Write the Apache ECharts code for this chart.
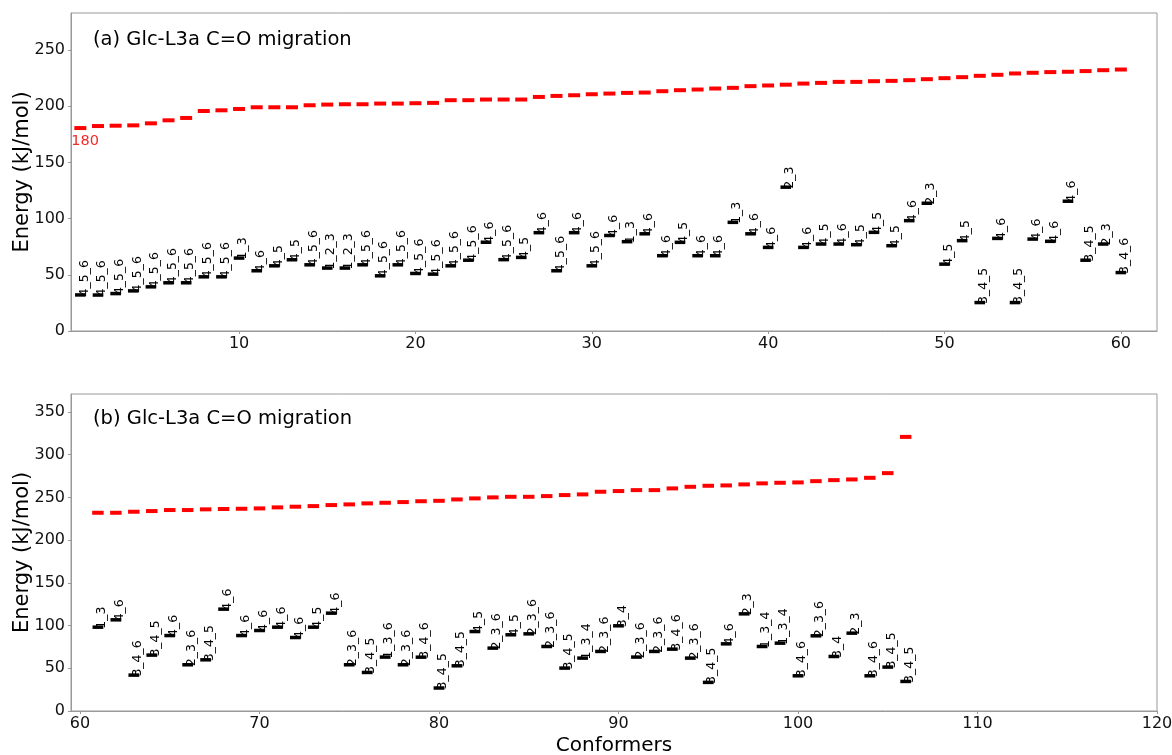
<!DOCTYPE html>
<html><head><meta charset="utf-8">
<script src="https://cdn.jsdelivr.net/npm/echarts@6/dist/echarts.min.js"></script>
<style>html,body{margin:0;padding:0;background:#fff}#c{width:1172px;height:755px}</style>
</head><body><div id="c"></div>
<script>
// ---------- DATA ----------
const topConformers = [1,2,3,4,5,6,7,8,9,10,11,12,13,14,15,16,17,18,19,20,21,22,23,24,25,26,27,28,29,30,
  31,32,33,34,35,36,37,38,39,40,41,42,43,44,45,46,47,48,49,50,51,52,53,54,55,56,57,58,59,60];
const topTS = [180.6,182.4,182.7,183,184.8,187.5,189.6,195.8,196.4,197.6,
  199.1,199.1,199.1,200.9,201.5,201.8,201.8,202.4,202.4,202.7,
  203,205.4,205.4,206,206,206,208.3,209.2,209.8,210.7,
  211.3,211.9,212.2,213.4,214.3,214.9,215.8,216.4,217.9,218.5,
  219.2,220.2,220.8,221.7,221.7,222.3,222.6,223.2,224.1,225,
  225.9,227.1,228,229.2,229.8,230.4,230.7,231.3,232.1,232.7];
const topMin = [32.1,32,33.3,35.7,39.3,42.9,42.9,48.2,48.2,64.9,
  53.6,58,63.4,58.9,56,56,58.9,49.1,58.9,51.2,
  50.6,58,63,79,63.5,65.5,87.5,53.6,87.5,58,
  85,79.5,86.5,67,78.9,67,67,96.7,86.5,74.4,
  128,74.4,77.4,77.4,76.8,87.8,75.9,98.2,113.7,59.5,
  80.4,25.3,82.4,25.3,81.8,79.8,115.5,63,77.4,52];
const topLabels = ['4_5_6','4_5_6','4_5_6','4_5_6','4_5_6','4_5_6','4_5_6','4_5_6','4_5_6','1_3',
  '4_6','4_5','4_5','4_5_6','1_2_3','1_2_3','4_5_6','4_5_6','4_5_6','4_5_6',
  '4_5_6','4_5_6','4_5_6','4_6','4_5_6','4_5','4_6','4_5_6','4_6','4_5_6',
  '4_6','1_3','4_6','4_6','4_5','4_6','4_6','1_3','4_6','4_6',
  '2_3','4_6','4_5','4_6','4_5','4_5','4_5','4_6','2_3','4_5',
  '4_5','3_4_5','4_6','3_4_5','4_6','4_6','4_6','3_4_5','2_3','3_4_6'];

const botConformers = [61,62,63,64,65,66,67,68,69,70,71,72,73,74,75,76,77,78,79,80,
  81,82,83,84,85,86,87,88,89,90,91,92,93,94,95,96,97,98,99,100,101,102,103,104,105,106];
const botTS = [232,232,233.2,234,235.2,235.2,236,236.4,236.7,237.1,
  238.3,239.1,239.8,241,241.8,243,243.7,244.5,245.5,246,
  247.6,248.8,250,250.7,250.7,251.5,252.7,253.5,256.6,257.4,
  258.5,258.5,260.5,262.4,263.6,264,265.2,266.4,267.1,267.5,
  269,270.2,271,272.9,278.4,320.8];
const botMin = [98.1,106.7,42,65.4,88.3,54.1,59.9,119.2,88.3,94.2,
  98.1,86,98.1,114.5,54.1,45.1,63.1,54.1,63,26.9,
  52.9,93,73.6,89.2,90.3,75.5,50.2,61.9,69.7,99.7,
  63.1,69.7,72.4,61.9,33.5,78.6,113.7,75.5,79.4,41.2,
  88,63.8,91.1,41.2,51.4,34.6];
const botLabels = ['1_3','4_6','3_4_6','3_4_5','4_6','2_3_6','3_4_5','4_6','4_6','4_6',
  '4_6','4_6','4_5','4_6','2_3_6','3_4_5','1_3_6','2_3_6','3_4_6','3_4_5',
  '3_4_5','4_5','2_3_6','4_5','2_3_6','2_3_6','3_4_5','1_3_4','2_3_6','3_4',
  '2_3_6','2_3_6','3_4_6','2_3_6','3_4_5','4_6','2_3','1_3_4','1_3_4','3_4_6',
  '2_3_6','3_4','2_3','3_4_6','3_4_5','3_4_5'];

const topXTicks = [10,20,30,40,50,60];
const topYTicks = [0,50,100,150,200,250];
const botXTicks = [60,70,80,90,100,110,120];
const botYTicks = [0,50,100,150,200,250,300,350];
const titleA = '(a) Glc-L3a C=O migration';
const titleB = '(b) Glc-L3a C=O migration';
const firstTSLabel = '180';

// ---------- RENDER ----------
const FONT = '"DejaVu Sans", sans-serif';
const AXIS_GREY = '#999999';
function pairs(xs, ys){ return xs.map((x,i)=>[x, ys[i]]); }

function dashItem(halfW, thick, color, annot){
  return function(params, api){
    const x = api.value(0), y = api.value(1);
    const p1 = api.coord([x - halfW, y]);
    const p2 = api.coord([x + halfW, y]);
    const children = [{type:'rect', shape:{x:p1[0], y:p1[1]-thick/2, width:p2[0]-p1[0], height:thick}, style:{fill:color}}];
    if (annot && params.dataIndex === 0) {
      children.push({type:'text', x:p1[0]-3, y:p1[1]+6,
        style:{text:annot, fill:'#f22a2a', font:'14.5px ' + FONT, align:'left', verticalAlign:'top'}});
    }
    return {type:'group', children};
  };
}
function barItem(labels){
  return function(params, api){
    const x = api.value(0), y = api.value(1);
    const c = api.coord([x, y]);
    const p1 = api.coord([x - 0.3, y]), p2 = api.coord([x + 0.3, y]);
    return {type:'group', children:[
      {type:'rect', shape:{x:p1[0], y:c[1]-1.75, width:p2[0]-p1[0], height:3.5}, style:{fill:'#000'}},
      {type:'text', x:c[0]-2.5, y:c[1]+1.5, rotation:Math.PI/2,
        style:{text:labels[params.dataIndex], fill:'#000', font:'12.5px ' + FONT, align:'left', verticalAlign:'top'}}
    ]};
  };
}

function xAxis(grid, min, max, ticks, name){
  return {gridIndex:grid, type:'value', min, max, name:name||'', nameLocation:'middle', nameGap:25,
    nameMoveOverlap:false,
    nameTextStyle:{fontSize:20, fontFamily:FONT, color:'#000'},
    axisLine:{show:true, onZero:false, lineStyle:{color:AXIS_GREY, width:1}},
    axisTick:{show:true, customValues:ticks, length:3, lineStyle:{color:AXIS_GREY}},
    axisLabel:{customValues:ticks, fontSize:16, fontFamily:FONT, color:'#111', margin:5},
    splitLine:{show:false}};
}
function yAxis(grid, min, max, ticks){
  return {gridIndex:grid, type:'value', min, max, name:'Energy (kJ/mol)', nameLocation:'middle', nameGap:38,
    nameMoveOverlap:false,
    nameTextStyle:{fontSize:21, fontFamily:FONT, color:'#000'},
    axisLine:{show:true, onZero:false, lineStyle:{color:AXIS_GREY, width:1}},
    axisTick:{show:true, customValues:ticks, length:3, lineStyle:{color:AXIS_GREY}},
    axisLabel:{customValues:ticks, fontSize:16, fontFamily:FONT, color:'#111', margin:6},
    splitLine:{show:false}};
}

const chart = echarts.init(document.getElementById('c'), null, {renderer:'canvas'});
chart.setOption({
  animation:false,
  backgroundColor:'#fff',
  title:[
    {text:titleA, left:93, top:30, padding:0, textStyle:{fontSize:19.5, fontWeight:'normal', fontFamily:FONT, color:'#000'}},
    {text:titleB, left:93, top:409, padding:0, textStyle:{fontSize:19.5, fontWeight:'normal', fontFamily:FONT, color:'#000'}}
  ],
  grid:[
    {left:71, top:13, width:1086, height:318, outerBoundsMode:'none', containLabel:false, show:true, borderColor:AXIS_GREY, borderWidth:1, backgroundColor:'transparent'},
    {left:71, top:394, width:1086, height:317, outerBoundsMode:'none', containLabel:false, show:true, borderColor:AXIS_GREY, borderWidth:1, backgroundColor:'transparent'}
  ],
  xAxis:[ xAxis(0, 0.47, 62.05, topXTicks), xAxis(1, 59.5, 120, botXTicks, 'Conformers') ],
  yAxis:[ yAxis(0, 0, 283, topYTicks), yAxis(1, 0, 371, botYTicks) ],
  series:[
    {type:'custom', xAxisIndex:0, yAxisIndex:0, data:pairs(topConformers, topTS), encode:{x:0,y:1},
      renderItem:dashItem(0.34, 4, '#ff0000', firstTSLabel)},
    {type:'custom', xAxisIndex:0, yAxisIndex:0, data:pairs(topConformers, topMin), encode:{x:0,y:1},
      renderItem:barItem(topLabels)},
    {type:'custom', xAxisIndex:1, yAxisIndex:1, data:pairs(botConformers, botTS), encode:{x:0,y:1},
      renderItem:dashItem(0.32, 4, '#ff0000')},
    {type:'custom', xAxisIndex:1, yAxisIndex:1, data:pairs(botConformers, botMin), encode:{x:0,y:1},
      renderItem:barItem(botLabels)}
  ]
});
</script>
</body></html>
